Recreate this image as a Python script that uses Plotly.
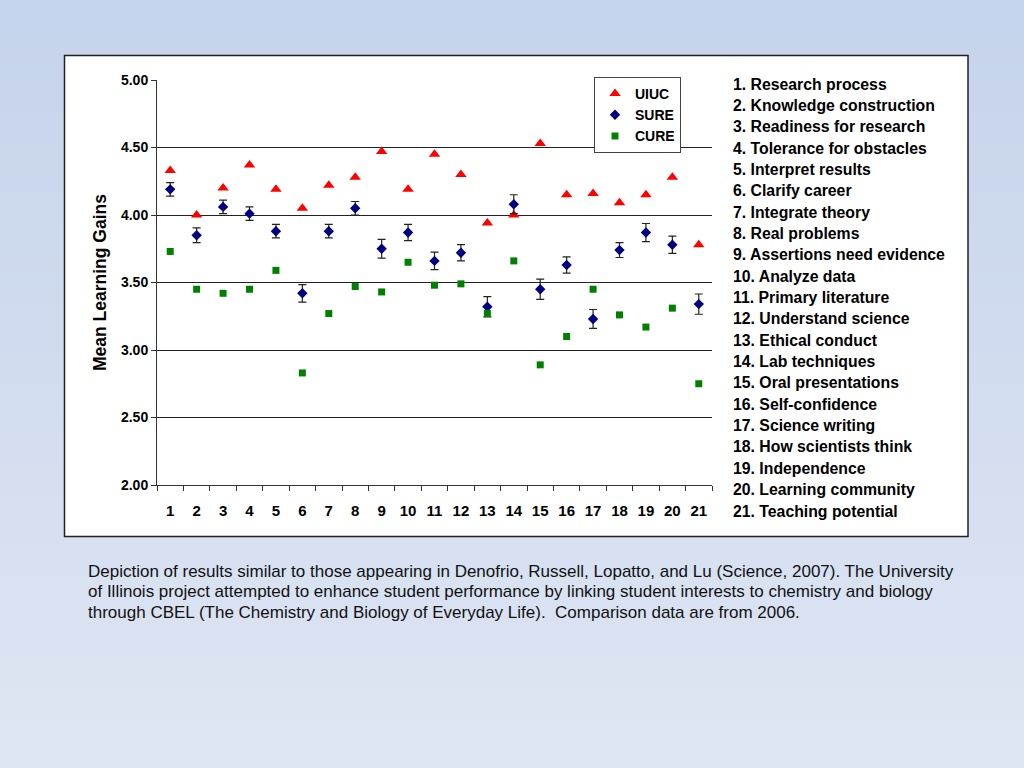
import plotly.graph_objects as go

categories = [str(i) for i in range(1, 22)]

uiuc = [4.33, 4.00, 4.20, 4.37, 4.19, 4.05, 4.22, 4.28, 4.47, 4.19, 4.45,
        4.30, 3.94, 4.00, 4.53, 4.15, 4.16, 4.09, 4.15, 4.28, 3.78]
sure = [4.19, 3.85, 4.06, 4.01, 3.88, 3.42, 3.88, 4.05, 3.75, 3.87, 3.66,
        3.72, 3.32, 4.08, 3.45, 3.63, 3.23, 3.74, 3.87, 3.78, 3.34]
sure_err = [0.05, 0.055, 0.05, 0.05, 0.05, 0.065, 0.05, 0.05, 0.07, 0.06, 0.065,
            0.06, 0.075, 0.07, 0.075, 0.06, 0.07, 0.055, 0.067, 0.064, 0.075]
cure = [3.73, 3.45, 3.42, 3.45, 3.59, 2.83, 3.27, 3.47, 3.43, 3.65, 3.48,
        3.49, 3.27, 3.66, 2.89, 3.10, 3.45, 3.26, 3.17, 3.31, 2.75]

item_names = ["Research process", "Knowledge construction", "Readiness for research",
              "Tolerance for obstacles", "Interpret results", "Clarify career",
              "Integrate theory", "Real problems", "Assertions need evidence",
              "Analyze data", "Primary literature", "Understand science",
              "Ethical conduct", "Lab techniques", "Oral presentations",
              "Self-confidence", "Science writing", "How scientists think",
              "Independence", "Learning community", "Teaching potential"]

y_ticks = [2.0, 2.5, 3.0, 3.5, 4.0, 4.5, 5.0]
y_ticktext = ["2.00", "2.50", "3.00", "3.50", "4.00", "4.50", "5.00"]

caption_lines = [
    "Depiction of results similar to those appearing in Denofrio, Russell, Lopatto, and Lu (Science, 2007). The University",
    "of Illinois project attempted to enhance student performance by linking student interests to chemistry and biology",
    "through CBEL (The Chemistry and Biology of Everyday Life).  Comparison data are from 2006.",
]

W, H = 1024, 768
FONT = "Liberation Sans, Arial, sans-serif"

fig = go.Figure()
fig.add_trace(go.Scatter(x=categories, y=uiuc, mode="markers", name="UIUC",
                         marker=dict(symbol="triangle-up", color="#ff0000", size=10)))
fig.add_trace(go.Scatter(x=categories, y=sure, mode="markers", name="SURE",
                         marker=dict(symbol="diamond", color="#000080", size=8),
                         error_y=dict(type="data", array=sure_err, visible=True,
                                      color="#222222", thickness=1.2, width=4)))
fig.add_trace(go.Scatter(x=categories, y=cure, mode="markers", name="CURE",
                         marker=dict(symbol="square", color="#008000", size=7)))

def px(x):
    return x / W

def py(y):
    return 1 - y / H

shapes = []
# background gradient bands
n = 48
c0 = (197, 211, 236)
c1 = (223, 230, 243)
for i in range(n):
    t = i / (n - 1)
    col = tuple(round(c0[k] + (c1[k] - c0[k]) * t) for k in range(3))
    shapes.append(dict(type="rect", xref="paper", yref="paper", layer="below",
                       x0=0, x1=1, y0=1 - (i + 1) / n, y1=1 - i / n,
                       line=dict(width=0), fillcolor="rgb(%d,%d,%d)" % col))
# white chart box
shapes.append(dict(type="rect", xref="paper", yref="paper", layer="below",
                   x0=px(64.5), x1=px(968), y0=py(536.5), y1=py(55.5),
                   line=dict(color="#222222", width=1.5), fillcolor="white"))

annotations = []
for i, name in enumerate(item_names):
    annotations.append(dict(xref="paper", yref="paper", x=px(731), y=py(84 + i * 21.35),
                            xanchor="left", yanchor="middle", showarrow=False,
                            text="%d. %s" % (i + 1, name),
                            font=dict(family=FONT, size=15.8, color="black", weight="bold")))
for j, line in enumerate(caption_lines):
    annotations.append(dict(xref="paper", yref="paper", x=px(86), y=py(571 + j * 20.6),
                            xanchor="left", yanchor="middle", showarrow=False, align="left",
                            text=line,
                            font=dict(family=FONT, size=17, color="#111111")))

fig.update_layout(
    width=W, height=H,
    margin=dict(l=0, r=0, t=0, b=0),
    paper_bgcolor="#d5dff1",
    plot_bgcolor="white",
    shapes=shapes,
    annotations=annotations,
    showlegend=True,
    legend=dict(x=px(594), y=py(77), xanchor="left", yanchor="top",
                bgcolor="white", bordercolor="#444444", borderwidth=1,
                font=dict(family=FONT, size=14, color="black", weight="bold"),
                itemwidth=30, tracegroupgap=0),
    xaxis=dict(domain=[px(157), px(712)], type="category", categoryorder="array",
               categoryarray=categories, range=[-0.5, 20.5],
               showgrid=False, zeroline=False, showline=True, linecolor="#333333", linewidth=1,
               ticks="outside", tickson="boundaries", ticklen=5, tickcolor="#333333",
               ticklabelstandoff=12,
               tickfont=dict(family=FONT, size=15, color="black", weight="bold"),
               automargin=False),
    yaxis=dict(domain=[py(485), py(80)], range=[2.0, 5.0],
               tickvals=y_ticks, ticktext=y_ticktext,
               showgrid=True, gridcolor="#222222", gridwidth=1, zeroline=False,
               showline=True, linecolor="#333333", linewidth=1,
               ticks="outside", ticklen=5, tickcolor="#333333",
               tickfont=dict(family=FONT, size=14, color="black", weight="bold"),
               title=dict(text="Mean Learning Gains", standoff=9,
                          font=dict(family=FONT, size=17.5, color="black", weight="bold")),
               automargin=False),
)

fig.write_html("out.html", config={"displayModeBar": False},
               post_script="document.body.style.margin='0';document.body.style.padding='0';")
